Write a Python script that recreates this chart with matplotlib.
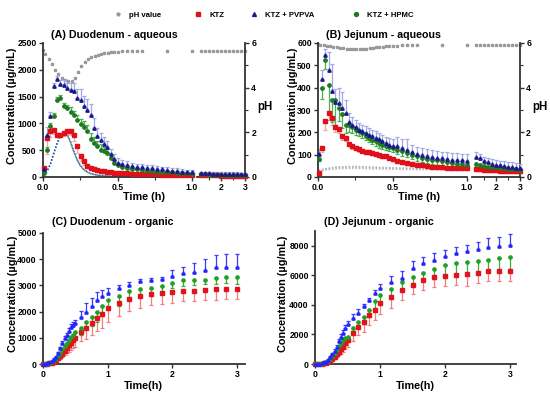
import numpy as np
import matplotlib
matplotlib.use("Agg")
import matplotlib.pyplot as plt
from matplotlib.lines import Line2D
from matplotlib.ticker import FixedLocator

plt.rcParams['font.family'] = ['Liberation Sans', 'DejaVu Sans']
plt.rcParams['font.weight'] = 'bold'

# ---------------- aqueous data (A, B) ----------------
t_aq = [0.005, 0.027, 0.050, 0.072, 0.095, 0.117, 0.140, 0.162, 0.185, 0.207, 0.230, 0.252,
        0.275, 0.297, 0.320, 0.342, 0.365, 0.387, 0.410, 0.432, 0.455, 0.477, 0.500,
        0.533, 0.567, 0.600, 0.633, 0.667, 0.700, 0.733, 0.767, 0.800, 0.833, 0.867, 0.900,
        0.933, 0.967, 1.000,
        1.167, 1.333, 1.500, 1.667, 1.833, 2.000, 2.167, 2.333, 2.500, 2.667, 2.833, 3.000]

# Panel A - duodenum aqueous
A_ktz = [170, 720, 860, 880, 790, 790, 820, 860, 865, 790, 570, 400, 290, 200, 170, 150, 130, 115,
         105, 95, 88, 80, 75,
         70, 66, 62, 58, 55, 52, 50, 48, 46, 44, 42, 40, 38, 36, 35,
         30, 30, 29, 28, 28, 27, 26, 26, 25, 25, 24, 24]
A_ktz_err = [60, 300, 120, 80, 40, 50, 60, 60, 80, 120, 120, 100, 60, 40, 30, 25, 20, 20, 15, 15, 15, 15, 15,
             10, 10, 10, 10, 10, 10, 10, 10, 10, 10, 10, 10, 10, 10, 10,
             8, 8, 8, 8, 8, 8, 8, 8, 8, 8, 8, 8]
A_pvpva = [150, 780, 1140, 1700, 1830, 1730, 1720, 1660, 1630, 1600, 1480, 1440, 1330, 1250, 1160,
           920, 760, 690, 620, 560, 420, 330, 270,
           240, 220, 200, 190, 180, 170, 160, 150, 140, 130, 120, 110, 100, 90, 85,
           70, 68, 66, 64, 62, 60, 58, 56, 55, 54, 53, 52]
A_pvpva_err = [30, 150, 80, 60, 60, 80, 90, 100, 120, 150, 160, 200, 190, 200, 210, 180, 150, 130, 120,
               120, 110, 90, 80,
               70, 70, 70, 60, 60, 60, 60, 50, 50, 50, 50, 50, 40, 40, 40,
               30, 30, 30, 30, 30, 30, 30, 30, 30, 30, 30, 30]
A_hpmc = [70, 500, 950, 1130, 1430, 1470, 1330, 1290, 1220, 1160, 1070, 980, 940, 850, 700, 630,
          570, 510, 480, 450, 350, 260, 230,
          190, 170, 150, 140, 130, 120, 110, 100, 95, 90, 85, 80, 75, 70, 65,
          50, 48, 46, 45, 44, 42, 40, 40, 38, 37, 36, 35]
A_hpmc_err = [20, 60, 50, 60, 70, 60, 50, 60, 80, 80, 80, 100, 110, 120, 130, 120, 110, 100, 80, 70, 60, 50, 40,
              30, 30, 30, 30, 30, 30, 30, 30, 30, 30, 30, 30, 30, 30, 30,
              20, 20, 20, 20, 20, 20, 20, 20, 20, 20, 20, 20]
A_sim_pvpva = [30, 110, 250, 450, 640, 780, 840, 800, 660, 480, 320, 210, 140, 95, 65, 48, 36, 28,
               22, 18, 15, 12, 10,
               8, 7, 6, 5, 5, 4, 4, 3, 3, 3, 2, 2, 2, 2, 2,
               1, 1, 1, 1, 1, 1, 1, 1, 1, 1, 1, 1]
A_sim_hpmc = [28, 100, 235, 430, 620, 760, 820, 780, 640, 465, 310, 200, 135, 90, 62, 45, 34, 26,
              21, 17, 14, 11, 9,
              7, 6, 5, 5, 4, 4, 3, 3, 3, 2, 2, 2, 2, 2, 2,
              1, 1, 1, 1, 1, 1, 1, 1, 1, 1, 1, 1]

# Panel B - jejunum aqueous
B_ktz = [20, 130, 250, 285, 265, 225, 215, 182, 175, 148, 137, 130, 124, 118, 114, 110, 106, 103,
         100, 96, 92, 86, 80,
         72, 66, 62, 58, 55, 52, 50, 47, 45, 44, 42, 41, 40, 40, 40,
         35, 34, 33, 32, 31, 30, 29, 28, 27, 27, 26, 25]
B_ktz_err = [5, 20, 40, 30, 30, 25, 20, 15, 15, 10, 10, 10, 10, 8, 8, 8, 8, 8, 8, 8, 8, 8, 8,
             8, 8, 8, 8, 8, 8, 8, 8, 8, 8, 8, 8, 8, 8, 8,
             8, 8, 8, 8, 8, 8, 8, 8, 8, 8, 8, 8]
B_pvpva = [105, 440, 545, 480, 385, 335, 330, 310, 285, 245, 235, 225, 212, 204, 197, 190, 182, 175,
           168, 160, 150, 145, 140,
           137, 128, 120, 112, 105, 100, 95, 90, 86, 83, 80, 78, 76, 74, 72,
           90, 85, 70, 65, 60, 55, 52, 50, 47, 45, 42, 40]
B_pvpva_err = [20, 40, 30, 80, 120, 60, 70, 70, 60, 40, 35, 30, 30, 30, 30, 30, 30, 30, 30, 30, 30, 30, 30,
               40, 40, 50, 30, 30, 30, 30, 30, 30, 30, 30, 30, 30, 30, 30,
               20, 20, 20, 20, 20, 20, 20, 20, 20, 20, 20, 20]
B_hpmc = [80, 400, 525, 410, 345, 345, 310, 280, 235, 232, 222, 212, 204, 195, 185, 175, 167, 160,
          152, 145, 140, 135, 130,
          122, 115, 108, 100, 93, 87, 82, 78, 74, 70, 66, 63, 60, 58, 55,
          60, 55, 50, 47, 45, 43, 41, 40, 38, 36, 34, 32]
B_hpmc_err = [10, 50, 40, 120, 100, 110, 60, 60, 40, 30, 25, 25, 20, 20, 20, 20, 20, 20, 20, 20, 20, 20, 20,
              20, 20, 20, 20, 20, 20, 20, 20, 20, 20, 20, 20, 20, 20, 20,
              15, 15, 15, 15, 15, 15, 15, 15, 15, 15, 15, 15]
B_sim_pvpva = [30, 34, 37, 40, 42, 44, 45, 46, 46, 47, 47, 47, 46, 46, 45, 45, 44, 44, 43, 43, 42, 42, 41,
               41, 40, 40, 39, 39, 38, 38, 38, 37, 37, 37, 36, 36, 36, 35,
               35, 34, 34, 33, 33, 33, 32, 32, 32, 31, 31, 31]
B_sim_hpmc = [28, 32, 35, 37, 39, 41, 42, 43, 43, 44, 44, 44, 43, 43, 42, 42, 41, 41, 40, 40, 39, 39, 39,
              38, 38, 37, 37, 37, 36, 36, 36, 35, 35, 35, 34, 34, 34, 34,
              33, 33, 32, 32, 32, 31, 31, 31, 30, 30, 30, 30]
B_sim_ktz = [25, 28, 31, 33, 35, 36, 37, 38, 38, 39, 39, 39, 38, 38, 38, 37, 37, 37, 36, 36, 36, 35, 35,
             35, 34, 34, 34, 33, 33, 33, 33, 32, 32, 32, 32, 31, 31, 31,
             30, 30, 30, 29, 29, 29, 28, 28, 28, 28, 27, 27]

# pH profiles
t_ph = [0.0, 0.016, 0.038, 0.060, 0.082, 0.104, 0.126, 0.148, 0.170, 0.192, 0.214, 0.236, 0.258,
        0.280, 0.302, 0.324, 0.346, 0.368, 0.390, 0.412, 0.434, 0.456, 0.478, 0.500,
        0.533, 0.567, 0.600, 0.633, 0.667, 0.833, 1.000,
        1.167, 1.333, 1.500, 1.667, 1.833, 2.000, 2.167, 2.333, 2.500, 2.667, 2.833, 3.000]
A_ph = [5.70, 5.50, 5.30, 5.05, 4.80, 4.60, 4.45, 4.35, 4.28, 4.30, 4.45, 4.70, 4.95, 5.15, 5.28,
        5.36, 5.42, 5.47, 5.51, 5.54, 5.56, 5.58, 5.60, 5.61,
        5.62, 5.63, 5.64, 5.65, 5.65, 5.66, 5.66,
        5.66, 5.66, 5.66, 5.66, 5.66, 5.66, 5.66, 5.66, 5.66, 5.66, 5.66, 5.66]
B_ph = [5.96, 5.93, 5.90, 5.87, 5.85, 5.82, 5.80, 5.78, 5.76, 5.75, 5.74, 5.73, 5.73, 5.73, 5.74,
        5.75, 5.76, 5.78, 5.80, 5.82, 5.84, 5.85, 5.86, 5.87,
        5.88, 5.89, 5.90, 5.90, 5.91, 5.92, 5.92,
        5.92, 5.92, 5.92, 5.92, 5.92, 5.92, 5.92, 5.92, 5.92, 5.92, 5.92, 5.92]

# ---------------- organic data (C, D) ----------------
t_org = [0, 0.033, 0.067, 0.1, 0.133, 0.167, 0.2, 0.233, 0.267, 0.3, 0.333, 0.367, 0.4, 0.433,
         0.467, 0.5, 0.583, 0.667, 0.75, 0.833, 0.917, 1.0, 1.167, 1.333, 1.5, 1.667, 1.833,
         2.0, 2.167, 2.333, 2.5, 2.667, 2.833, 3.0]

C_pvpva = [0, 10, 25, 60, 110, 180, 280, 410, 600, 790, 980, 1110, 1275, 1430, 1500, 1560, 1790,
           2000, 2220, 2450, 2580, 2700, 2900, 3020, 3150, 3210, 3240, 3370, 3470, 3530, 3570,
           3690, 3720, 3720]
C_pvpva_err = [0, 5, 10, 15, 20, 30, 40, 50, 60, 70, 80, 90, 100, 100, 100, 120, 250, 320, 300,
               280, 260, 200, 120, 100, 100, 60, 80, 200, 250, 330, 420, 480, 470, 480]
C_hpmc = [0, 5, 15, 40, 80, 140, 200, 300, 420, 560, 700, 820, 930, 1030, 1120, 1210, 1365, 1620,
          1810, 2000, 2220, 2450, 2580, 2770, 2860, 2895, 2985, 3110, 3190, 3190, 3215, 3265,
          3320, 3320]
C_hpmc_err = [0, 5, 10, 20, 30, 40, 60, 80, 100, 120, 150, 160, 180, 200, 200, 220, 250, 300, 350,
              380, 380, 400, 350, 280, 250, 250, 220, 200, 200, 180, 180, 200, 220, 250]
C_ktz = [0, 3, 10, 25, 50, 90, 150, 220, 300, 400, 500, 610, 720, 820, 900, 980, 1240, 1390, 1560,
         1750, 1900, 2130, 2320, 2470, 2580, 2670, 2700, 2730, 2780, 2800, 2840, 2860, 2870, 2880]
C_ktz_err = [0, 2, 5, 10, 20, 30, 50, 70, 100, 130, 170, 200, 250, 280, 300, 320, 380, 430, 450,
             500, 520, 530, 500, 450, 450, 430, 420, 400, 380, 380, 400, 400, 380, 400]

D_pvpva = [0, 10, 30, 60, 110, 160, 270, 450, 680, 900, 1175, 1580, 1850, 2120, 2420, 2710, 3100,
           3435, 3930, 4340, 4790, 5130, 5580, 5810, 6490, 6820, 7050, 7320, 7500, 7620, 7770,
           7950, 8000, 8070]
D_pvpva_err = [0, 5, 10, 15, 20, 30, 40, 60, 80, 100, 120, 140, 160, 180, 200, 220, 300, 300, 150,
               150, 250, 300, 400, 450, 500, 400, 450, 400, 400, 400, 500, 600, 600, 700]
D_hpmc = [0, 5, 15, 30, 70, 130, 220, 350, 520, 720, 950, 1200, 1420, 1620, 1750, 1850, 2420, 2870,
          3210, 3660, 4230, 4680, 5060, 5580, 5880, 6190, 6420, 6710, 6820, 6870, 6940, 7050,
          7160, 7230]
D_hpmc_err = [0, 5, 10, 15, 20, 30, 40, 60, 80, 100, 120, 140, 160, 180, 200, 200, 200, 400, 500,
              500, 600, 600, 500, 550, 500, 600, 700, 800, 800, 800, 800, 800, 750, 800]
D_ktz = [0, 3, 10, 20, 40, 90, 160, 250, 360, 500, 660, 830, 1000, 1180, 1400, 1600, 2080, 2530,
         2870, 3320, 3660, 4110, 4560, 5020, 5360, 5700, 5920, 5970, 6030, 6100, 6190, 6260,
         6260, 6260]
D_ktz_err = [0, 2, 5, 10, 20, 40, 60, 80, 100, 150, 200, 250, 300, 350, 400, 450, 500, 600, 700,
             700, 700, 700, 800, 700, 600, 700, 700, 700, 700, 800, 700, 650, 650, 650]

# ---------------- styling ----------------
RED_AQ, BLUE_AQ, GREEN_AQ = '#e0101a', '#1a1a8c', '#1e7a1e'
RED_AQ_E, BLUE_AQ_E, GREEN_AQ_E = '#f5a3a8', '#a3a8e6', '#4caf50'
RED_OR, BLUE_OR, GREEN_OR = '#e0141c', '#2424ff', '#22a022'
RED_OR_E, BLUE_OR_E, GREEN_OR_E = '#f08080', '#3a3aff', '#36b036'
GREY = '#9a9a9a'
SPINE = '#333333'
TICKFS = 6.2
LABFS = 7.8
TITFS = 7.7

W, H = 550, 399
fig = plt.figure(figsize=(W / 100, H / 100), dpi=100)


def rect(x0, y0, x1, y1):
    return [x0 / W, 1 - y1 / H, (x1 - x0) / W, (y1 - y0) / H]


def style_ticks(ax):
    ax.tick_params(axis='both', which='major', labelsize=TICKFS, length=3, width=1.0,
                   pad=1.5, color=SPINE)
    ax.tick_params(axis='both', which='minor', length=2, width=0.8, color=SPINE)
    for lab in ax.get_xticklabels() + ax.get_yticklabels():
        lab.set_fontweight('bold')


def series(ax, t, y, err, color, ecolor, marker, direction, ms=2.4, mask=None):
    t = np.asarray(t, float)
    y = np.asarray(y, float)
    err = np.asarray(err, float)
    if mask is not None:
        t, y, err = t[mask], y[mask], err[mask]
    if direction == 'up':
        yerr = [np.zeros_like(err), err]
    else:
        yerr = [err, np.zeros_like(err)]
    ax.errorbar(t, y, yerr=yerr, fmt='none', ecolor=ecolor, elinewidth=0.9, capsize=1.4,
                capthick=0.9, clip_on=False, zorder=2)
    ax.plot(t, y, ls='none', marker=marker, ms=ms, color=color, mec=color, clip_on=False, zorder=3)


def sim(ax, t, y, color, mask):
    t = np.asarray(t, float)[mask]
    y = np.asarray(y, float)[mask]
    ax.plot(t, y, ls=(0, (1, 1.2)), lw=1.1, color=color, clip_on=False, zorder=1)


def aqueous_panel(x0, x_break1, x_break2, x1, ymax, yticks, title, data, sims, ph):
    y0, y1 = 43, 177
    ax1 = fig.add_axes(rect(x0, y0, x_break1, y1))
    ax2 = fig.add_axes(rect(x_break2, y0, x1, y1))
    ta = np.asarray(t_aq)
    m1 = ta <= 1.0001
    m2 = ta > 1.0001
    for ax, m in ((ax1, m1), (ax2, m2)):
        for (t, y, e, c, ec, mk, d) in data:
            series(ax, t, y, e, c, ec, mk, d, mask=m)
        for (t, y, c) in sims:
            sim(ax, t, y, c, m)
        ax.set_ylim(0, ymax)
        for s in ('top', 'right', 'left'):
            ax.spines[s].set_visible(False)
        ax.spines['bottom'].set_linewidth(1.3)
        ax.spines['bottom'].set_color(SPINE)
    ax1.set_xlim(0, 1.0)
    ax2.set_xlim(1.0, 3.0)
    ax1.spines['left'].set_visible(True)
    ax1.spines['left'].set_linewidth(1.3)
    ax1.spines['left'].set_color(SPINE)
    ax1.set_yticks(yticks)
    ax1.set_xticks([0, 0.5, 1.0])
    ax1.set_xticklabels(['0.0', '0.5', '1.0'])
    ax1.xaxis.set_minor_locator(FixedLocator([0.25, 0.75]))
    ax2.set_xticks([2, 3])
    ax2.set_xticklabels(['2', '3'])
    ax2.xaxis.set_minor_locator(FixedLocator([1.5, 2.5]))
    ax2.set_yticks([])
    style_ticks(ax1)
    style_ticks(ax2)

    # pH axes
    tp = np.asarray(t_ph)
    php = np.asarray(ph)
    p1 = ax1.twinx()
    p2 = ax2.twinx()
    for p, mk in ((p1, tp <= 1.0001), (p2, tp > 1.0001)):
        p.plot(tp[mk], php[mk], ls='none', marker='*', ms=2.3, color=GREY, mec=GREY,
               clip_on=False, zorder=1)
        p.set_ylim(0, 6)
        for s in ('top', 'left', 'bottom', 'right'):
            p.spines[s].set_visible(False)
    p1.set_yticks([])
    p2.spines['right'].set_visible(True)
    p2.spines['right'].set_linewidth(1.3)
    p2.spines['right'].set_color(SPINE)
    p2.set_yticks([0, 2, 4, 6])
    p2.yaxis.set_minor_locator(FixedLocator([1, 3, 5]))
    style_ticks(p2)
    p1.set_zorder(ax1.get_zorder() - 1)
    p2.set_zorder(ax2.get_zorder() - 1)
    ax1.set_zorder(p1.get_zorder() + 2)
    ax2.set_zorder(p2.get_zorder() + 2)
    ax1.patch.set_visible(False)
    ax2.patch.set_visible(False)

    fig.text((x0 + 8) / W, 1 - 35 / H, title, fontsize=TITFS, fontweight='bold',
             ha='left', va='center')
    fig.text((x0 + x1) / 2 / W, 1 - 197 / H, 'Time (h)', fontsize=LABFS, fontweight='bold',
             ha='center', va='center')
    fig.text((x1 + 20) / W, 1 - 107 / H, 'pH', fontsize=LABFS + 0.5, fontweight='bold',
             ha='center', va='center')
    return ax1


# Panel A
aqueous_panel(43, 192, 197, 245, 2500, [0, 500, 1000, 1500, 2000, 2500],
              '(A) Duodenum - aqueous',
              [(t_aq, A_ktz, A_ktz_err, RED_AQ, RED_AQ_E, 's', 'down'),
               (t_aq, A_hpmc, A_hpmc_err, GREEN_AQ, GREEN_AQ_E, 'o', 'up'),
               (t_aq, A_pvpva, A_pvpva_err, BLUE_AQ, BLUE_AQ_E, '^', 'up')],
              [(t_aq, A_sim_hpmc, '#3a9a3a'), (t_aq, A_sim_pvpva, '#3a4ad0')],
              A_ph)
fig.text(12 / W, 1 - 106 / H, 'Concentration (µg/mL)', fontsize=LABFS, fontweight='bold',
         rotation=90, ha='center', va='center')

# Panel B
aqueous_panel(318, 467, 472, 520, 600, [0, 100, 200, 300, 400, 500, 600],
              '(B) Jejunum - aqueous',
              [(t_aq, B_ktz, B_ktz_err, RED_AQ, RED_AQ_E, 's', 'down'),
               (t_aq, B_hpmc, B_hpmc_err, GREEN_AQ, GREEN_AQ_E, 'o', 'down'),
               (t_aq, B_pvpva, B_pvpva_err, BLUE_AQ, BLUE_AQ_E, '^', 'up')],
              [(t_aq, B_sim_ktz, '#f3a0a0'), (t_aq, B_sim_hpmc, '#8fd08f'),
               (t_aq, B_sim_pvpva, '#9ab0ee')],
              B_ph)
fig.text(293 / W, 1 - 106 / H, 'Concentration (µg/mL)', fontsize=LABFS, fontweight='bold',
         rotation=90, ha='center', va='center')


def organic_panel(x0, x1, y0, y1, xmax, ymax, yticks, title, data, ylab_x):
    ax = fig.add_axes(rect(x0, y0, x1, y1))
    for (t, y, e, c, ec, mk, d) in data:
        series(ax, t, y, e, c, ec, mk, d, ms=2.3)
    ax.set_xlim(0, xmax)
    ax.set_ylim(0, ymax)
    ax.set_xticks([0, 1, 2, 3])
    ax.set_yticks(yticks)
    for s in ('top', 'right'):
        ax.spines[s].set_visible(False)
    for s in ('left', 'bottom'):
        ax.spines[s].set_linewidth(1.3)
        ax.spines[s].set_color(SPINE)
    style_ticks(ax)
    ax.patch.set_visible(False)
    fig.text((x0 + 9) / W, 1 - 222 / H, title, fontsize=TITFS, fontweight='bold',
             ha='left', va='center')
    fig.text((x0 + 100) / W, 1 - 386 / H, 'Time(h)', fontsize=LABFS, fontweight='bold',
             ha='center', va='center')
    fig.text(ylab_x / W, 1 - 294 / H, 'Concentration (µg/mL)', fontsize=LABFS,
             fontweight='bold', rotation=90, ha='center', va='center')


organic_panel(43, 245, 233, 364, 3.12, 5000, [0, 1000, 2000, 3000, 4000, 5000],
              '(C) Duodenum - organic',
              [(t_org, C_ktz, C_ktz_err, RED_OR, RED_OR_E, 's', 'down'),
               (t_org, C_hpmc, C_hpmc_err, GREEN_OR, GREEN_OR_E, 'o', 'down'),
               (t_org, C_pvpva, C_pvpva_err, BLUE_OR, BLUE_OR_E, '^', 'up')], 13)

organic_panel(315, 516, 231, 364, 3.09, 9000, [0, 2000, 4000, 6000, 8000],
              '(D) Jejunum - organic',
              [(t_org, D_ktz, D_ktz_err, RED_OR, RED_OR_E, 's', 'down'),
               (t_org, D_hpmc, D_hpmc_err, GREEN_OR, GREEN_OR_E, 'o', 'down'),
               (t_org, D_pvpva, D_pvpva_err, BLUE_OR, BLUE_OR_E, '^', 'up')], 283)

# ---------------- legend ----------------
LEGFS = 5.6
leg_items = [('pH value', '*', GREY, 118), ('KTZ', 's', RED_AQ, 198),
             ('KTZ + PVPVA', '^', BLUE_AQ, 254), ('KTZ + HPMC', 'o', GREEN_AQ, 356)]
em_px = LEGFS * 100 / 72
for lab, mk, col, xm in leg_items:
    h = Line2D([], [], ls='none', marker=mk, ms=2.8, color=col, mec=col)
    fig.legend(handles=[h], labels=[lab], loc='center left',
               bbox_to_anchor=((xm - 0.5 * em_px) / W, 1 - 15 / H), frameon=False,
               handlelength=1.0, handletextpad=0.95, borderpad=0, borderaxespad=0,
               prop={'size': LEGFS, 'weight': 'bold', 'family': ['Liberation Sans', 'DejaVu Sans']})

fig.savefig('out.png', dpi=100)
